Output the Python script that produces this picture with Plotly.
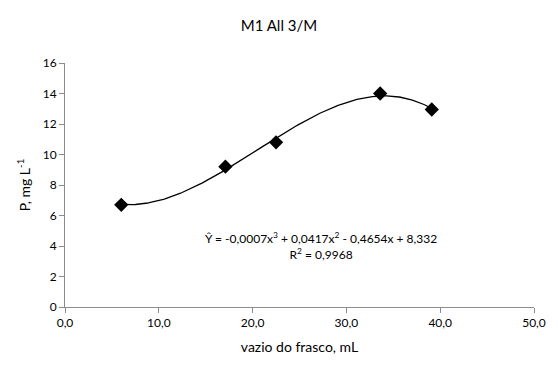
import numpy as np
import plotly.graph_objects as go

# Data
vazio_ml = [6.0, 17.1, 22.5, 33.6, 39.1]
p_mg_l = [6.7, 9.2, 10.8, 14.0, 12.95]

title_text = "M1 All 3/M"
x_title = "vazio do frasco, mL"
y_title = "P, mg L<sup>-1</sup>"
eq_text = "Ŷ = -0,0007x<sup>3</sup> + 0,0417x<sup>2</sup> - 0,4654x + 8,332<br>R<sup>2</sup> = 0,9968"

# Cubic trendline fitted to the data (as in the original spreadsheet trendline)
coef = np.polyfit(vazio_ml, p_mg_l, 3)
xs = np.linspace(min(vazio_ml), max(vazio_ml), 200)
ys = np.polyval(coef, xs)

font = "Lato, 'Open Sans', sans-serif"

fig = go.Figure()
fig.add_trace(go.Scatter(x=xs, y=ys, mode="lines",
                         line=dict(color="black", width=1.3),
                         hoverinfo="skip", showlegend=False))
fig.add_trace(go.Scatter(x=vazio_ml, y=p_mg_l, mode="markers",
                         marker=dict(symbol="diamond", color="black", size=11),
                         showlegend=False))

fig.add_annotation(x=27.3, y=4.0, xref="x", yref="y", text=eq_text,
                   showarrow=False, align="center",
                   font=dict(family=font, size=12, color="black"))

fig.update_layout(
    width=558, height=372,
    margin=dict(l=65, r=17, t=63, b=65),
    paper_bgcolor="white", plot_bgcolor="white",
    separators=", ",
    title=dict(text=title_text, x=0.5, xanchor="center", y=0.93, yanchor="middle",
               font=dict(family=font, size=15, color="black")),
    font=dict(family=font, size=12, color="black"),
)
fig.update_xaxes(range=[0, 50], dtick=10, tick0=0, tickformat=".1f",
                 showgrid=False, zeroline=False, showline=True,
                 linecolor="#8c8c8c", linewidth=1,
                 ticks="outside", ticklen=5, tickcolor="#8c8c8c",
                 title=dict(text=x_title, font=dict(family=font, size=14), standoff=12),
                 tickfont=dict(family=font, size=12))
fig.update_yaxes(range=[0, 16], dtick=2, tick0=0,
                 showgrid=False, zeroline=False, showline=True,
                 linecolor="#8c8c8c", linewidth=1,
                 ticks="outside", ticklen=5, tickcolor="#8c8c8c",
                 title=dict(text=y_title, font=dict(family=font, size=14), standoff=8),
                 tickfont=dict(family=font, size=12))

fig.write_html("out.html")
